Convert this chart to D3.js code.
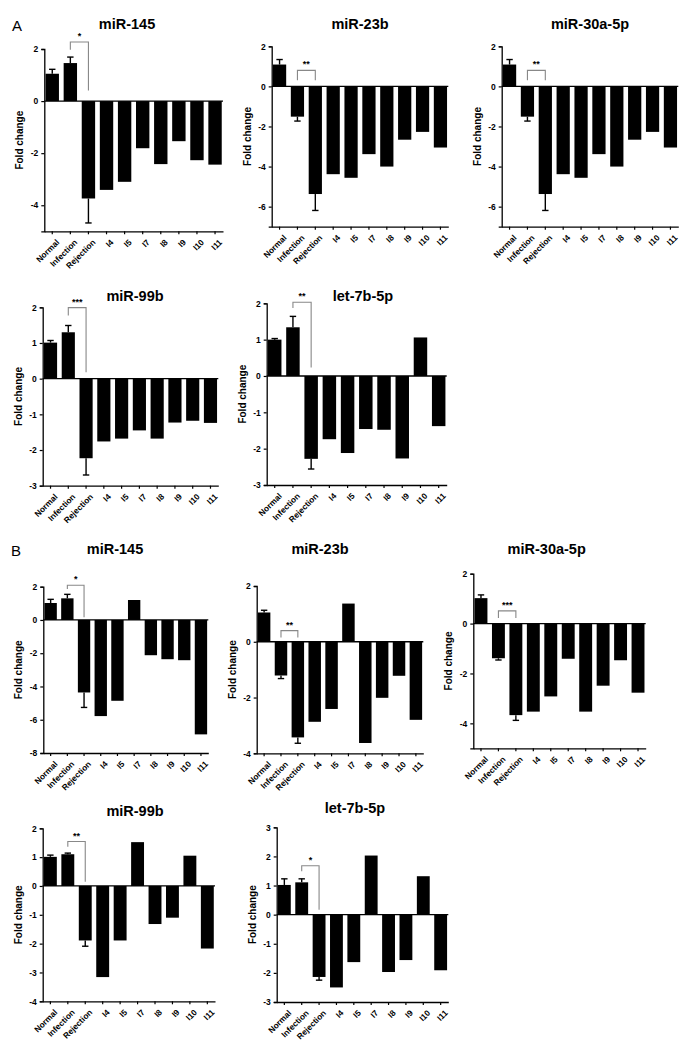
<!DOCTYPE html>
<html><head><meta charset="utf-8">
<script src="https://cdn.jsdelivr.net/npm/d3@7/dist/d3.min.js"></script>
<style>
html,body{margin:0;padding:0;background:#fff;}
svg{display:block;font-family:"Liberation Sans",Arial,sans-serif;}
</style></head>
<body>
<svg id="chart" width="694" height="1047"></svg>
<script>
// ---------- data ----------
const categories = ["Normal","Infection","Rejection","I4","I5","I7","I8","I9","I10","I11"];

const aMiR145      = [1.05, 1.46, -3.74, -3.41, -3.10, -1.81, -2.42, -1.54, -2.27, -2.44];
const aMiR145Err   = [0.17, 0.23, 0.94, 0, 0, 0, 0, 0, 0, 0];
const aMiR23b      = [1.09, -1.51, -5.37, -4.38, -4.56, -3.38, -4.00, -2.66, -2.27, -3.05];
const aMiR23bErr   = [0.25, 0.22, 0.82, 0, 0, 0, 0, 0, 0, 0];
const aMiR30a      = [1.09, -1.51, -5.37, -4.38, -4.56, -3.38, -4.00, -2.66, -2.27, -3.05];
const aMiR30aErr   = [0.25, 0.22, 0.82, 0, 0, 0, 0, 0, 0, 0];
const aMiR99b      = [1.01, 1.30, -2.23, -1.76, -1.68, -1.45, -1.68, -1.23, -1.18, -1.24];
const aMiR99bErr   = [0.06, 0.19, 0.47, 0, 0, 0, 0, 0, 0, 0];
const aLet7b       = [1.00, 1.34, -2.28, -1.74, -2.12, -1.46, -1.48, -2.27, 1.06, -1.38];
const aLet7bErr    = [0.03, 0.30, 0.28, 0, 0, 0, 0, 0, 0, 0];

const bMiR145      = [1.02, 1.30, -4.36, -5.78, -4.86, 1.20, -2.12, -2.36, -2.42, -6.88];
const bMiR145Err   = [0.22, 0.24, 0.90, 0, 0, 0, 0, 0, 0, 0];
const bMiR23b      = [1.05, -1.21, -3.43, -2.87, -2.41, 1.37, -3.63, -2.01, -1.22, -2.80];
const bMiR23bErr   = [0.08, 0.11, 0.21, 0, 0, 0, 0, 0, 0, 0];
const bMiR30a      = [1.02, -1.39, -3.67, -3.53, -2.92, -1.41, -3.53, -2.49, -1.47, -2.77];
const bMiR30aErr   = [0.13, 0.07, 0.21, 0, 0, 0, 0, 0, 0, 0];
const bMiR99b      = [1.01, 1.10, -1.89, -3.16, -1.89, 1.52, -1.32, -1.10, 1.05, -2.17];
const bMiR99bErr   = [0.06, 0.04, 0.20, 0, 0, 0, 0, 0, 0, 0];
const bLet7b       = [1.02, 1.11, -2.14, -2.50, -1.63, 2.03, -1.97, -1.56, 1.32, -1.91];
const bLet7bErr    = [0.21, 0.12, 0.11, 0, 0, 0, 0, 0, 0, 0];

const titles = ["miR-145","miR-23b","miR-30a-5p","miR-99b","let-7b-5p",
                "miR-145","miR-23b","miR-30a-5p","miR-99b","let-7b-5p"];
const sigLabels = ["*","**","**","***","**","*","**","***","**","*"];
const yDomains = [[-5,2],[-7,2],[-7,2],[-3,2],[-3,2],[-8,2],[-4,2],[-5,2],[-4,2],[-3,3]];
const yTickSets = [[-4,-2,0,2],[-6,-4,-2,0,2],[-6,-4,-2,0,2],[-3,-2,-1,0,1,2],[-3,-2,-1,0,1,2],
                   [-8,-6,-4,-2,0,2],[-4,-2,0,2],[-4,-2,0,2],[-4,-3,-2,-1,0,1,2],[-3,-2,-1,0,1,2,3]];
const seriesList = [aMiR145,aMiR23b,aMiR30a,aMiR99b,aLet7b,bMiR145,bMiR23b,bMiR30a,bMiR99b,bLet7b];
const errList = [aMiR145Err,aMiR23bErr,aMiR30aErr,aMiR99bErr,aLet7bErr,bMiR145Err,bMiR23bErr,bMiR30aErr,bMiR99bErr,bLet7bErr];

// ---------- layout (pixels) ----------
const layout = [
  {x0:44.3, x1:223,   yT:49,    yB:231.3, tx:127,   ty:25,  br:[2.27,1.97,0.41]},
  {x0:271.7,x1:448.3, yT:46.3,  yB:226.7, tx:360,   ty:25,  br:[0.80,0.31,0.31]},
  {x0:501.7,x1:678.3, yT:46.3,  yB:226.7, tx:590,   ty:25,  br:[0.80,0.31,0.31]},
  {x0:42.7, x1:218.3, yT:307.3, yB:485.7, tx:135,   ty:297, br:[1.99,1.77,0.18]},
  {x0:266.7,x1:446.7, yT:303.3, yB:485,   tx:363,   ty:297, br:[2.03,1.87,0.23]},
  {x0:43.3, x1:208.3, yT:586.7, yB:753,   tx:115,   ty:550, br:[2.09,1.86,0.16]},
  {x0:256.7,x1:423.3, yT:586,   yB:753.3, tx:320,   ty:550, br:[0.40,0.15,0.15]},
  {x0:473.3,x1:645.7, yT:573.7, yB:748.3, tx:546.7, ty:550, br:[0.51,0.22,0.22]},
  {x0:42.7, x1:215,   yT:828.3, yB:1001.3,tx:135,   ty:812, br:[1.54,1.36,0.15]},
  {x0:276.7,x1:448.3, yT:827.3, yB:1002,  tx:355,   ty:809, br:[1.68,1.49,0.17]}
];

const svg = d3.select("#chart");

svg.append("text").attr("x",12).attr("y",31).attr("font-size",15).text("A");
svg.append("text").attr("x",11).attr("y",556).attr("font-size",15).text("B");

layout.forEach((L, i) => {
  const vals = seriesList[i], errs = errList[i];
  const g = svg.append("g");
  const x = d3.scaleBand().domain(categories).range([L.x0, L.x1]).paddingInner(0.26).paddingOuter(0.07);
  const y = d3.scaleLinear().domain(yDomains[i]).range([L.yB, L.yT]);

  // title
  g.append("text").attr("x",L.tx).attr("y",L.ty).attr("text-anchor","middle")
    .attr("dominant-baseline","middle").attr("font-size",14.5).attr("font-weight","bold").text(titles[i]);

  // bars
  const data = categories.map((c, k) => ({c, v: vals[k], e: errs[k]}));
  g.selectAll("rect.bar").data(data).enter().append("rect")
    .attr("x", d => x(d.c)).attr("width", x.bandwidth())
    .attr("y", d => Math.min(y(0), y(d.v)))
    .attr("height", d => Math.abs(y(d.v) - y(0)))
    .attr("fill","#000");

  // error bars (one sided, away from zero)
  const ed = data.filter(d => d.e > 0);
  ed.forEach(d => {
    const cx = x(d.c) + x.bandwidth()/2;
    const end = d.v >= 0 ? d.v + d.e : d.v - d.e;
    g.append("line").attr("x1",cx).attr("x2",cx).attr("y1",y(d.v)).attr("y2",y(end))
      .attr("stroke","#000").attr("stroke-width",1.4);
    g.append("line").attr("x1",cx-3.2).attr("x2",cx+3.2).attr("y1",y(end)).attr("y2",y(end))
      .attr("stroke","#000").attr("stroke-width",1.4);
  });

  // zero line
  g.append("line").attr("x1",L.x0).attr("x2",L.x1).attr("y1",y(0)).attr("y2",y(0))
    .attr("stroke","#000").attr("stroke-width",1.3);

  // y axis
  const yAx = g.append("g").attr("transform",`translate(${L.x0},0)`)
    .call(d3.axisLeft(y).tickValues(yTickSets[i]).tickSize(3).tickPadding(3).tickFormat(d3.format("d")));
  yAx.select(".domain").attr("stroke-width",1.3);
  yAx.selectAll(".tick line").attr("stroke-width",1.2);
  yAx.selectAll("text").attr("font-size",8.5).attr("font-weight","bold")
    .attr("font-family","'Liberation Sans',Arial,sans-serif").text(d => d < 0 ? "-" + Math.abs(d) : d);

  // x axis
  const xAx = g.append("g").attr("transform",`translate(0,${L.yB})`)
    .call(d3.axisBottom(x).tickSize(3).tickSizeOuter(0).tickPadding(2));
  xAx.select(".domain").attr("stroke-width",1.3);
  xAx.selectAll(".tick line").attr("stroke-width",1.2);
  xAx.selectAll("text").attr("font-size",8.3).attr("font-weight","bold")
    .attr("font-family","'Liberation Sans',Arial,sans-serif")
    .attr("text-anchor","end").attr("dy","0.35em")
    .attr("transform","translate(2,6) rotate(-45)");

  // y label
  g.append("text").attr("transform",`translate(${L.x0-21},${(L.yT+L.yB)/2}) rotate(-90)`)
    .attr("text-anchor","middle").attr("font-size",10).attr("font-weight","bold").text("Fold change");

  // significance bracket
  const xi = x("Infection") + x.bandwidth()/2, xr = x("Rejection") + x.bandwidth()/2;
  const [bt, bl, brr] = L.br;
  g.append("path").attr("d",`M${xi},${y(bl)}V${y(bt)}H${xr}V${y(brr)}`)
    .attr("fill","none").attr("stroke","#888").attr("stroke-width",1.1);
  g.append("text").attr("x",(xi+xr)/2).attr("y",y(bt)-3).attr("text-anchor","middle")
    .attr("font-size",9).attr("font-weight","bold").text(sigLabels[i]);
});
</script>
</body></html>
